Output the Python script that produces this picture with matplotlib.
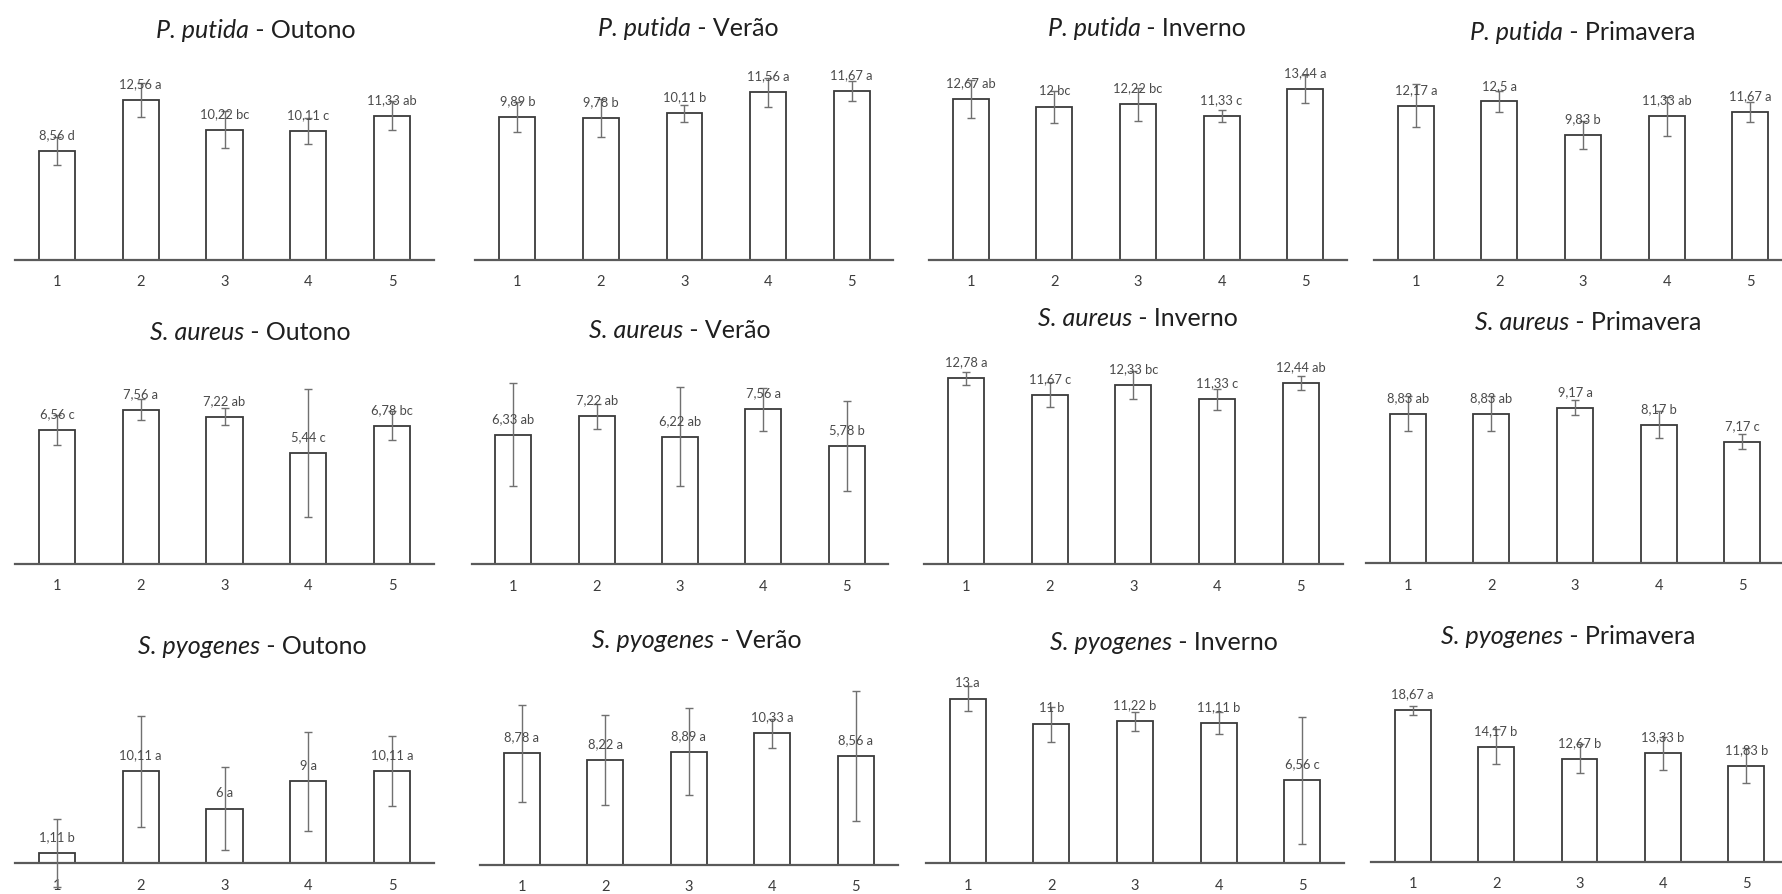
"""
Barras com desvio e letras do teste de médias: 3 bactérias x 4 estações
"""

import numpy as np
import matplotlib.pyplot as plt

plt.rcParams['font.family'] = 'Lato'

LARGURA, ALTURA = 1782, 894

tratamentos = ['1', '2', '3', '4', '5']

######################################################################
# Dados (médias, letras, desvio)

putida_outono = [8.56, 12.56, 10.22, 10.11, 11.33]
putida_outono_letras = ['d', 'a', 'bc', 'c', 'ab']
putida_outono_erro = [1.11, 1.31, 1.45, 1.05, 1.15]

putida_verao = [9.89, 9.78, 10.11, 11.56, 11.67]
putida_verao_letras = ['b', 'b', 'b', 'a', 'a']
putida_verao_erro = [1.03, 1.29, 0.60, 1.00, 0.69]

putida_inverno = [12.67, 12, 12.22, 11.33, 13.44]
putida_inverno_letras = ['ab', 'bc', 'bc', 'c', 'a']
putida_inverno_erro = [1.49, 1.25, 1.28, 0.48, 1.10]

putida_primavera = [12.17, 12.5, 9.83, 11.33, 11.67]
putida_primavera_letras = ['a', 'a', 'b', 'ab', 'a']
putida_primavera_erro = [1.71, 0.79, 1.10, 1.52, 0.79]

aureus_outono = [6.56, 7.56, 7.22, 5.44, 6.78]
aureus_outono_letras = ['c', 'a', 'ab', 'c', 'bc']
aureus_outono_erro = [0.73, 0.52, 0.43, 3.16, 0.70]

aureus_verao = [6.33, 7.22, 6.22, 7.56, 5.78]
aureus_verao_letras = ['ab', 'ab', 'ab', 'a', 'b']
aureus_verao_erro = [2.52, 0.62, 2.41, 1.06, 2.20]

aureus_inverno = [12.78, 11.67, 12.33, 11.33, 12.44]
aureus_inverno_letras = ['a', 'c', 'bc', 'c', 'ab']
aureus_inverno_erro = [0.46, 0.85, 0.96, 0.71, 0.48]

aureus_primavera = [8.83, 8.83, 9.17, 8.17, 7.17]
aureus_primavera_letras = ['ab', 'ab', 'a', 'b', 'c']
aureus_primavera_erro = [1.04, 1.04, 0.44, 0.80, 0.44]

pyogenes_outono = [1.11, 10.11, 6, 9, 10.11]
pyogenes_outono_letras = ['b', 'a', 'a', 'a', 'a']
pyogenes_outono_erro = [3.75, 6.10, 4.57, 5.40, 3.85]

pyogenes_verao = [8.78, 8.22, 8.89, 10.33, 8.56]
pyogenes_verao_letras = ['a', 'a', 'a', 'a', 'a']
pyogenes_verao_erro = [3.80, 3.53, 3.43, 1.12, 5.07]

pyogenes_inverno = [13, 11, 11.22, 11.11, 6.56]
pyogenes_inverno_letras = ['a', 'b', 'b', 'b', 'c']
pyogenes_inverno_erro = [0.98, 1.39, 0.78, 0.87, 5.00]

pyogenes_primavera = [18.67, 14.17, 12.67, 13.33, 11.83]
pyogenes_primavera_letras = ['a', 'b', 'b', 'b', 'b']
pyogenes_primavera_erro = [0.56, 2.14, 1.77, 2.05, 2.17]

paineis = [
    ('P. putida', 'Outono', putida_outono, putida_outono_letras, putida_outono_erro),
    ('P. putida', 'Verão', putida_verao, putida_verao_letras, putida_verao_erro),
    ('P. putida', 'Inverno', putida_inverno, putida_inverno_letras, putida_inverno_erro),
    ('P. putida', 'Primavera', putida_primavera, putida_primavera_letras, putida_primavera_erro),
    ('S. aureus', 'Outono', aureus_outono, aureus_outono_letras, aureus_outono_erro),
    ('S. aureus', 'Verão', aureus_verao, aureus_verao_letras, aureus_verao_erro),
    ('S. aureus', 'Inverno', aureus_inverno, aureus_inverno_letras, aureus_inverno_erro),
    ('S. aureus', 'Primavera', aureus_primavera, aureus_primavera_letras, aureus_primavera_erro),
    ('S. pyogenes', 'Outono', pyogenes_outono, pyogenes_outono_letras, pyogenes_outono_erro),
    ('S. pyogenes', 'Verão', pyogenes_verao, pyogenes_verao_letras, pyogenes_verao_erro),
    ('S. pyogenes', 'Inverno', pyogenes_inverno, pyogenes_inverno_letras, pyogenes_inverno_erro),
    ('S. pyogenes', 'Primavera', pyogenes_primavera, pyogenes_primavera_letras, pyogenes_primavera_erro),
]

# posição de cada painel em pixels: esquerda, direita, base, pixels por unidade
posicoes = [
    (15, 434, 260, 12.75), (475.5, 893.5, 260, 14.5), (929, 1347, 260, 12.73), (1374, 1792, 260, 12.68),
    (15, 434, 564, 20.4), (471.6, 888.4, 564.3, 20.5), (924.2, 1342.5, 564.3, 14.55), (1366, 1784, 563.3, 16.95),
    (15, 434, 863.3, 9.1), (480, 897.5, 865, 12.75), (926, 1344, 863.3, 12.65), (1371, 1788, 861.7, 8.12),
]

# centro dos títulos em pixels
titulos_xy = [
    (256, 30), (688, 29), (1147, 28), (1583, 32),
    (250, 332), (680, 330), (1138, 318), (1588, 323),
    (252, 647), (697, 640), (1164, 642), (1568, 637),
]


def rotulo(valor, letra):
    return '{:g} {}'.format(valor, letra).replace('.', ',')


def grafico_barras(fig, pos, medias, letras, erros):
    esq, dire, base, px_un = pos
    alt = 240
    ax = fig.add_axes([esq / LARGURA, (ALTURA - base) / ALTURA,
                       (dire - esq) / LARGURA, alt / ALTURA])
    ax.set_facecolor('none')
    x = np.arange(1, len(medias) + 1)

    ax.bar(x, medias, width=0.43, color='white', edgecolor='#3a3a3a', linewidth=1.3, zorder=2)
    eb = ax.errorbar(x, medias, yerr=erros, fmt='none', ecolor='#707070',
                     elinewidth=1.0, capsize=3, capthick=1.0, zorder=3)
    for parte in eb.get_children():
        parte.set_clip_on(False)

    for xi, v, l in zip(x, medias, letras):
        ax.annotate(rotulo(v, l), (xi, v), xytext=(0, 8.5), textcoords='offset points',
                    ha='center', va='baseline', fontsize=9.3, color='#4a4a4a', zorder=4)

    ax.set_xlim(0.5, len(medias) + 0.5)
    ax.set_ylim(0, alt / px_un)
    ax.set_xticks(x)
    ax.set_xticklabels(tratamentos)
    ax.set_yticks([])
    for lado in ['top', 'left', 'right']:
        ax.spines[lado].set_visible(False)
    ax.spines['bottom'].set_color('#5a5a5a')
    ax.spines['bottom'].set_linewidth(1.6)
    ax.tick_params(axis='x', length=0, pad=11, labelsize=10.5, labelcolor='#3c3c3c')
    return ax


def titulo(fig, renderer, especie, resto, cx, cy, tamanho=18):
    # nome da espécie em itálico e o resto normal, centrados juntos
    t1 = fig.text(0, 1 - cy / ALTURA, especie, style='italic', ha='left', va='center',
                  fontsize=tamanho, color='#1f1f1f')
    t2 = fig.text(0, 1 - cy / ALTURA, resto, ha='left', va='center',
                  fontsize=tamanho, color='#1f1f1f')
    w1 = t1.get_window_extent(renderer).width
    w2 = t2.get_window_extent(renderer).width
    x0 = cx - (w1 + w2) / 2
    t1.set_x(x0 / LARGURA)
    t2.set_x((x0 + w1) / LARGURA)


fig = plt.figure(figsize=(LARGURA / 100, ALTURA / 100), dpi=100)
renderer = fig.canvas.get_renderer()

for (especie, estacao, medias, letras, erros), pos, (tx, ty) in zip(paineis, posicoes, titulos_xy):
    grafico_barras(fig, pos, medias, letras, erros)
    titulo(fig, renderer, especie, ' - ' + estacao, tx, ty)

plt.savefig('out.png', dpi=100)
